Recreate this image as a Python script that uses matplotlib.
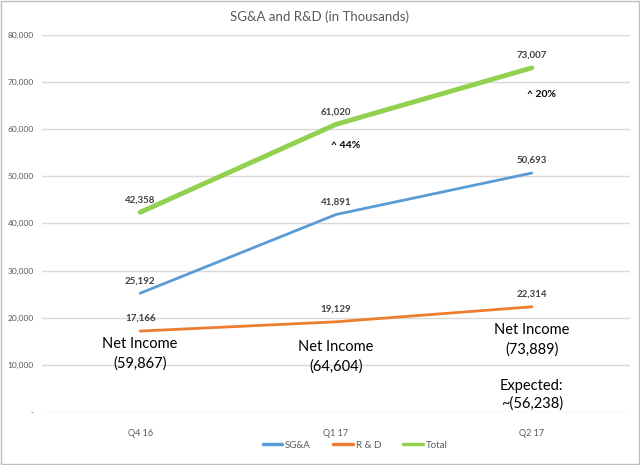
import matplotlib
matplotlib.use('Agg')
import matplotlib.pyplot as plt
from matplotlib.patches import Rectangle
from matplotlib.ticker import FuncFormatter

plt.rcParams['font.family'] = ['Lato', 'DejaVu Sans']

quarters = ['Q4 16', 'Q1 17', 'Q2 17']
sga = [25192, 41891, 50693]
rnd = [17166, 19129, 22314]
total = [42358, 61020, 73007]

net_income = ['Net Income\n(59,867)', 'Net Income\n(64,604)', 'Net Income\n(73,889)']
net_income_y = [12300, 11700, 15300]
expected_text = 'Expected:\n~(56,238)'
expected_y = 3700
growth = ['', '^ 44%', '^ 20%']

fig = plt.figure(figsize=(6.4, 4.65), dpi=100)
ax = fig.add_axes([0.066, 0.114, 0.918, 0.811])

x = range(len(quarters))
ax.plot(x, sga, color='#5B9BD5', lw=2.0, label='SG&A', solid_capstyle='round')
ax.plot(x, rnd, color='#ED7D31', lw=2.0, label='R & D', solid_capstyle='round')
ax.plot(x, total, color='#92D050', lw=3.5, label='Total', solid_capstyle='round')

# data labels
for series in [sga, rnd, total]:
    for i, v in enumerate(series):
        ax.annotate(f'{v:,}', (i, v), xytext=(0, 9), textcoords='offset points',
                    ha='center', va='center', fontsize=7, fontweight='bold', color='#404040')

# growth labels
for i, g in enumerate(growth):
    if g:
        ax.annotate(g, (i, total[i]), xytext=(7, -15 if i == 1 else -19), textcoords='offset points',
                    ha='center', va='center', fontsize=7.5, fontweight='bold', color='black')

# net income text
for i, t in enumerate(net_income):
    ax.text(i, net_income_y[i], t, ha='center', va='center', fontsize=10.5,
            color='black', linespacing=1.5)
ax.text(2, expected_y, expected_text, ha='center', va='center', fontsize=10.5,
        color='black', linespacing=1.3)

ax.set_xlim(-0.5, 2.5)
ax.set_ylim(0, 80000)
ax.set_xticks(list(x))
ax.set_xticklabels(quarters)
ax.set_yticks(range(0, 80001, 10000))
ax.yaxis.set_major_formatter(FuncFormatter(lambda v, p: '-' if v == 0 else f'{int(v):,}'))
ax.tick_params(axis='both', length=0, labelsize=6, colors='#595959')
ax.tick_params(axis='x', labelsize=6.5, pad=12)
ax.tick_params(axis='y', pad=6)
ax.grid(axis='y', color='#D9D9D9', lw=1)
ax.set_axisbelow(True)
for s in ax.spines.values():
    s.set_visible(False)

fig.text(0.5, 0.965, 'SG&A and R&D (in Thousands)', ha='center', va='center',
         fontsize=9.5, color='#595959')

leg = fig.legend(loc='center', bbox_to_anchor=(0.555, 0.043), ncol=3, frameon=False,
                 fontsize=7, handlelength=2.0, columnspacing=2.3, handletextpad=0.3,
                 labelcolor='#595959')
for line in leg.get_lines():
    line.set_linewidth(2.5)

fig.patches.append(Rectangle((0.002, 0.002), 0.996, 0.996, transform=fig.transFigure,
                             fill=False, edgecolor='#BFBFBF', lw=1))

fig.savefig('out.png', dpi=100)
